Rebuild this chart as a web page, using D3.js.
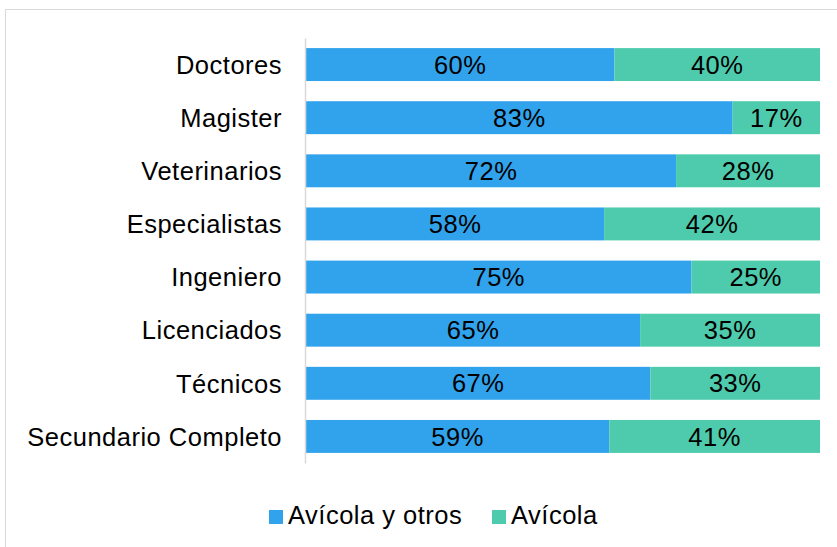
<!DOCTYPE html>
<html>
<head>
<meta charset="utf-8">
<script src="https://cdn.jsdelivr.net/npm/d3@7"></script>
<style>
  body { margin: 0; background: #fff; }
  svg text { font-family: "Liberation Sans", Arial, sans-serif; fill: #000; letter-spacing: 0.5px; }
</style>
</head>
<body>
<svg id="chart" width="837" height="547"></svg>
<script>
// categories top to bottom
const categorias = ["Doctores", "Magister", "Veterinarios", "Especialistas",
  "Ingeniero", "Licenciados", "Técnicos", "Secundario Completo"];
const avicolaOtros = [60, 83, 72, 58, 75, 65, 67, 59];
const avicola = [40, 17, 28, 42, 25, 35, 33, 41];
const series = ["Avícola y otros", "Avícola"];
const colores = ["#31a3ec", "#4ecbad"];

const svg = d3.select("#chart");

// outer frame of the chart area (runs past the window on right/bottom)
svg.append("rect")
  .attr("x", 5.5).attr("y", 9.5)
  .attr("width", 900).attr("height", 600)
  .attr("fill", "none")
  .attr("stroke", "#d9d9d9");

let x = d3.scaleLinear().domain([0, 100]).range([306, 820]);
let y = d3.scaleBand().domain(categorias).range([38, 463])
  .paddingInner(0.38).paddingOuter(0.19);

let rows = categorias.map(function(c, i) {
  return { cat: c, vals: [avicolaOtros[i], avicola[i]] };
});

let g = svg.append("g");
rows.forEach(function(r) {
  let start = 0;
  r.vals.forEach(function(v, j) {
    g.append("rect")
      .attr("x", x(start))
      .attr("y", y(r.cat))
      .attr("width", x(start + v) - x(start))
      .attr("height", y.bandwidth())
      .attr("fill", colores[j]);
    g.append("text")
      .attr("x", (x(start) + x(start + v)) / 2)
      .attr("y", y(r.cat) + y.bandwidth() / 2)
      .attr("dy", "0.36em")
      .attr("text-anchor", "middle")
      .style("font-size", "25.5px")
      .text(v + "%");
    start += v;
  });
});

// category axis
let axis = svg.append("g")
  .attr("transform", "translate(305,0)")
  .call(d3.axisLeft(y).tickSize(0).tickPadding(23));
axis.select(".domain").attr("stroke", "#d9d9d9").attr("stroke-width", 1.5);
axis.selectAll("text")
  .style("font-size", "25.5px")
  .style("font-family", "'Liberation Sans', Arial, sans-serif")
  .attr("dy", "0.36em");

// legend
let legX = [269, 492];
series.forEach(function(s, i) {
  svg.append("rect")
    .attr("x", legX[i]).attr("y", 510)
    .attr("width", 14).attr("height", 14)
    .attr("fill", colores[i]);
  svg.append("text")
    .attr("x", legX[i] + 19).attr("y", 524)
    .style("font-size", "25.5px")
    .text(s);
});
</script>
</body>
</html>
